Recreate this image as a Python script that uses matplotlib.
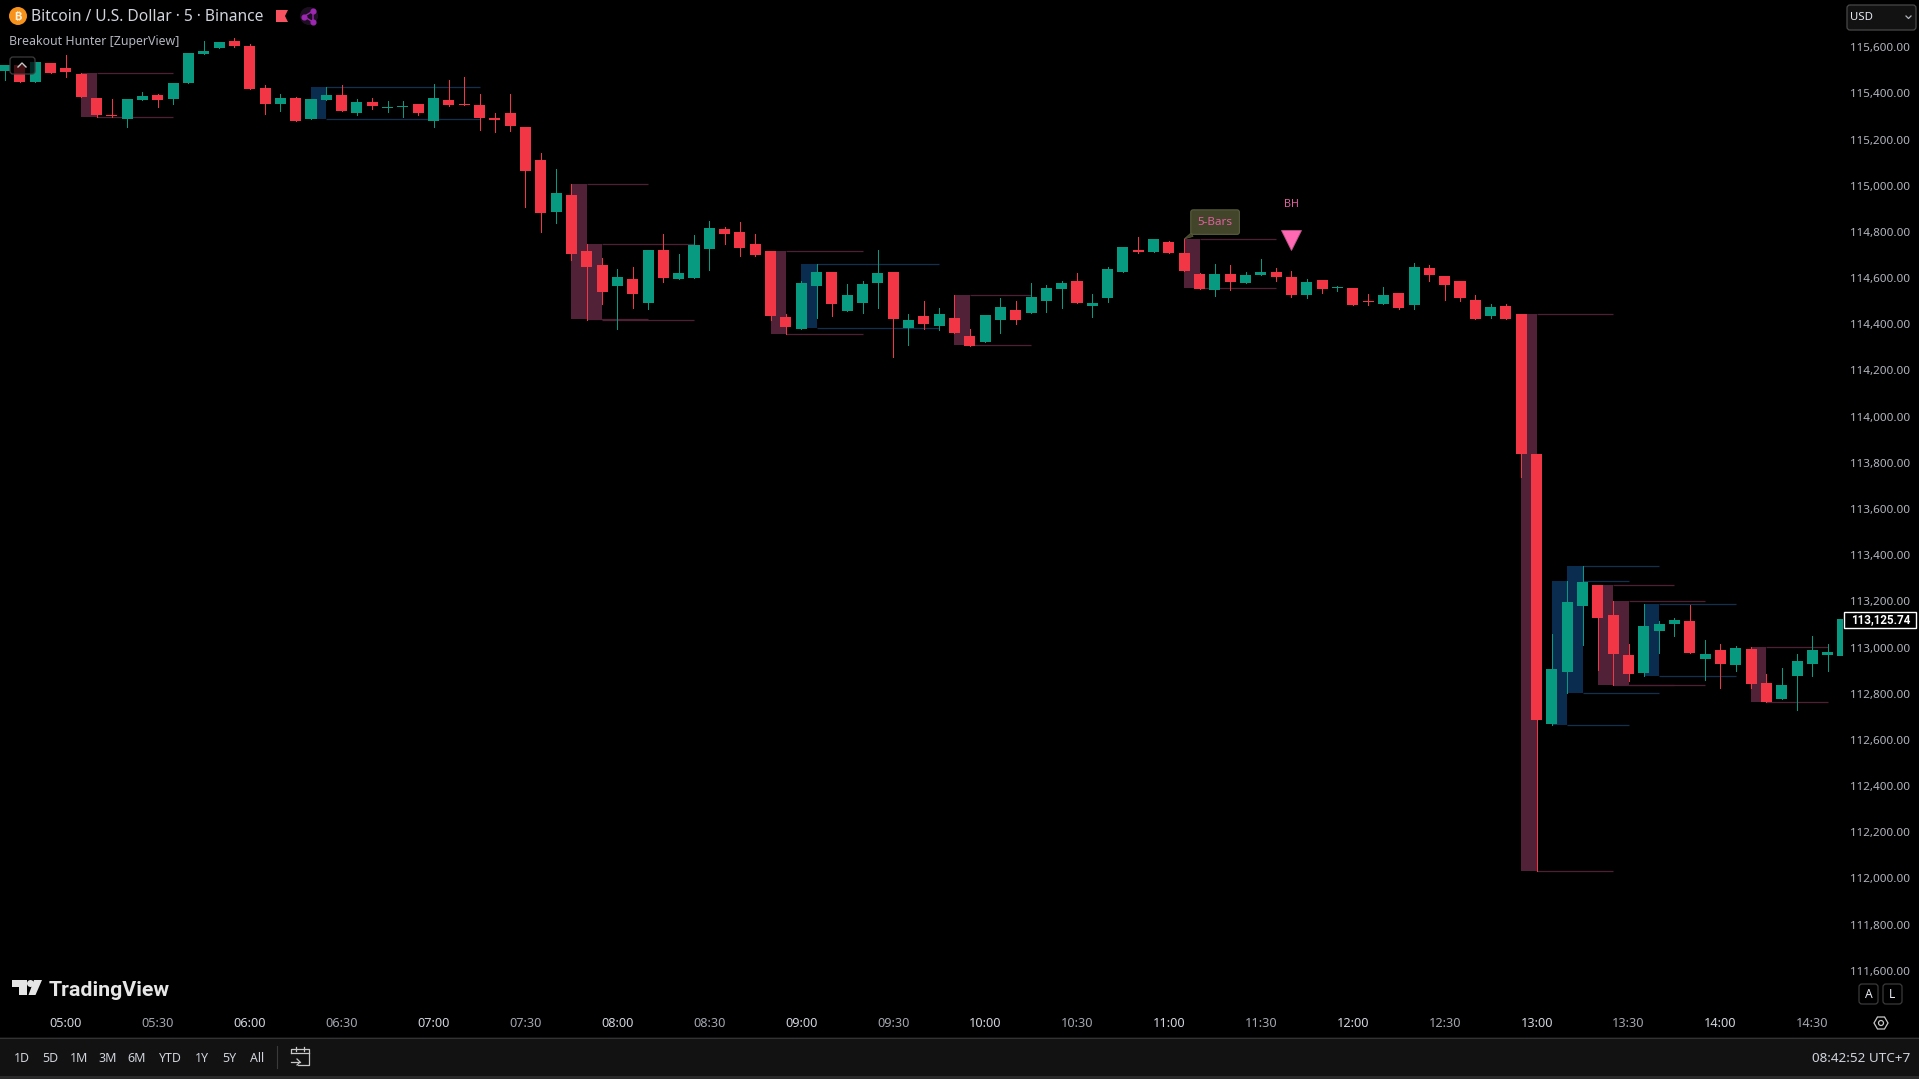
import matplotlib
matplotlib.use('Agg')
import matplotlib.pyplot as plt
from matplotlib.patches import Rectangle, FancyBboxPatch, Polygon, Circle

# 5 min bars, index 0 is the 05:00 bar
first_bar = -4
opens = [115497, 115523, 115450, 115532, 115510, 115484, 115380, 115307, 115289, 115372, 115393, 115376, 115445,
         115571, 115597, 115627, 115606, 115424, 115354, 115380, 115289, 115372, 115393, 115315, 115363, 115337,
         115341, 115354, 115281, 115372, 115354, 115350, 115289, 115315, 115255, 115112, 114887, 114960, 114718,
         114657, 114566, 114596, 114492, 114722, 114596, 114601, 114726, 114813, 114800, 114748, 114718, 114432,
         114380, 114566, 114627, 114458, 114492, 114579, 114627, 114384, 114436, 114393, 114427, 114349, 114323,
         114419, 114462, 114449, 114501, 114553, 114588, 114479, 114514, 114627, 114722, 114713, 114757, 114709,
         114618, 114549, 114618, 114579, 114614, 114627, 114605, 114527, 114592, 114557, 114557, 114501, 114488,
         114536, 114484, 114644, 114609, 114588, 114505, 114436, 114479, 114445, 113838, 112669, 112894, 113180,
         113271, 113141, 112968, 112890, 113072, 113102, 113115, 112950, 112989, 112924, 112994, 112846, 112777,
         112877, 112929, 112968, 112963]
highs = [115523, 115523, 115536, 115532, 115567, 115489, 115380, 115376, 115376, 115406, 115398, 115445, 115575,
         115627, 115623, 115640, 115614, 115437, 115398, 115385, 115376, 115428, 115437, 115376, 115380, 115367,
         115367, 115354, 115441, 115458, 115471, 115398, 115315, 115398, 115255, 115142, 115073, 115008, 114748,
         114687, 114640, 114648, 114722, 114791, 114705, 114787, 114848, 114822, 114843, 114791, 114718, 114445,
         114588, 114661, 114627, 114575, 114588, 114722, 114627, 114445, 114501, 114471, 114527, 114380, 114440,
         114514, 114501, 114579, 114570, 114588, 114622, 114531, 114648, 114735, 114778, 114770, 114761, 114770,
         114622, 114661, 114657, 114627, 114683, 114644, 114631, 114596, 114592, 114566, 114557, 114531, 114562,
         114536, 114666, 114657, 114609, 114588, 114527, 114488, 114488, 114445, 113838, 113058, 113288, 113353,
         113271, 113201, 113015, 113188, 113115, 113128, 113184, 113033, 113015, 113007, 113002, 112885, 112911,
         112972, 113050, 113015, 113123]
lows = [115458, 115450, 115450, 115489, 115471, 115385, 115298, 115298, 115255, 115372, 115341, 115354, 115445,
        115571, 115597, 115601, 115419, 115311, 115324, 115281, 115289, 115372, 115324, 115307, 115333, 115320,
        115298, 115307, 115255, 115346, 115350, 115242, 115233, 115238, 114908, 114800, 114839, 114679, 114419,
        114488, 114380, 114471, 114466, 114583, 114596, 114601, 114635, 114748, 114696, 114696, 114419, 114358,
        114380, 114427, 114436, 114458, 114449, 114471, 114258, 114310, 114380, 114375, 114362, 114306, 114323,
        114362, 114401, 114449, 114453, 114471, 114492, 114432, 114497, 114627, 114709, 114713, 114709, 114631,
        114553, 114523, 114549, 114579, 114614, 114588, 114518, 114514, 114536, 114544, 114484, 114484, 114488,
        114466, 114466, 114588, 114505, 114501, 114423, 114427, 114423, 113739, 112032, 112664, 112803, 113011,
        112903, 112838, 112855, 112877, 112976, 113050, 112976, 112859, 112825, 112898, 112825, 112764, 112777,
        112729, 112877, 112898, 112963]
closes = [115523, 115450, 115536, 115489, 115493, 115385, 115307, 115302, 115376, 115389, 115372, 115445, 115575,
          115584, 115623, 115606, 115419, 115354, 115380, 115281, 115376, 115393, 115324, 115363, 115346, 115341,
          115346, 115315, 115380, 115350, 115350, 115294, 115287, 115259, 115064, 114882, 114969, 114705, 114648,
          114540, 114605, 114531, 114722, 114601, 114622, 114744, 114817, 114791, 114731, 114700, 114436, 114388,
          114579, 114627, 114488, 114527, 114575, 114622, 114423, 114419, 114401, 114445, 114362, 114306, 114440,
          114475, 114419, 114518, 114557, 114579, 114492, 114492, 114640, 114735, 114713, 114770, 114709, 114631,
          114553, 114618, 114583, 114614, 114627, 114605, 114527, 114583, 114553, 114562, 114484, 114497, 114527,
          114471, 114648, 114614, 114570, 114514, 114423, 114475, 114423, 113838, 112686, 112907, 113197, 113284,
          113128, 112972, 112885, 113093, 113102, 113119, 112976, 112972, 112929, 112998, 112842, 112764, 112838,
          112942, 112989, 112981, 113123]

# breakout ranges: box from bar to bar + 1, level lines run on to the end bar
box_start = [1, 16, 33, 34, 46, 48, 58, 73, 95, 97, 98, 100, 101, 103, 110]
box_end = [7, 27, 38, 41, 52, 57, 63, 79, 101, 102, 104, 105, 107, 109, 115]
box_top = [115489, 115428, 115008, 114748, 114718, 114661, 114527, 114770, 114445, 113288, 113353, 113271, 113201, 113188, 113002]
box_bot = [115298, 115289, 114423, 114419, 114358, 114384, 114310, 114557, 112032, 112664, 112803, 112838, 112837, 112877, 112764]
box_kind = ['r', 'b', 'r', 'r', 'r', 'b', 'r', 'r', 'r', 'b', 'b', 'r', 'r', 'b', 'r']

price_ticks = [111600, 111800, 112000, 112200, 112400, 112600, 112800, 113000, 113200, 113400, 113600, 113800,
               114000, 114200, 114400, 114600, 114800, 115000, 115200, 115400, 115600]
time_ticks = [0, 6, 12, 18, 24, 30, 36, 42, 48, 54, 60, 66, 72, 78, 84, 90, 96, 102, 108, 114]
time_labels = ['05:00', '05:30', '06:00', '06:30', '07:00', '07:30', '08:00', '08:30', '09:00', '09:30', '10:00',
               '10:30', '11:00', '11:30', '12:00', '12:30', '13:00', '13:30', '14:00', '14:30']
last_price = 113125.74
range_buttons = ['1D', '5D', '1M', '3M', '6M', 'YTD', '1Y', '5Y', 'All']

GREEN = '#089981'
RED = '#F23645'
BOX = {'r': '#512138', 'b': '#0a2c4e'}
LINE = {'r': '#4f2034', 'b': '#12304f'}
PINK = '#ff69b4'

plt.rcParams['font.family'] = ['Noto Sans', 'DejaVu Sans']

W, H = 1919, 1079
fig = plt.figure(figsize=(W / 100, H / 100), dpi=100, facecolor='black')

# chart pane, scale taken from the axis labels
pane_r, pane_b = 1843, 1012
ax = fig.add_axes([0, 1 - pane_b / H, pane_r / W, pane_b / H], facecolor='black')
ax.set_xlim(-4.3, 116.0)
ax.set_ylim(111421, 115805)
for s in ax.spines.values():
    s.set_visible(False)

for st, en, top, bot, k in zip(box_start, box_end, box_top, box_bot, box_kind):
    ax.add_patch(Rectangle((st, bot), 1, top - bot, fc=BOX[k], ec='none', zorder=1, antialiased=False))
    ax.hlines([top, bot], st + 1, en, colors=LINE[k], lw=0.9, zorder=1)

bars = range(first_bar, first_bar + len(opens))
for i, o, h, l, c in zip(bars, opens, highs, lows, closes):
    col = GREEN if c >= o else RED
    ax.vlines(i, l, h, colors=col, lw=0.72, zorder=2, antialiased=False)
    ax.bar(i, max(abs(c - o), 5), bottom=min(o, c), width=0.72, color=col, lw=0, zorder=3, antialiased=False)

# signal marker of the indicator
ax.plot([80], [114765], marker='v', ms=15, color=PINK, mec='#c2528c', mew=0.6, ls='none', zorder=5)
ax.annotate('BH', (80, 114765), xytext=(0, 25.3), textcoords='offset points', color='#e0609f', fontsize=7.8,
            ha='center', va='center', zorder=5)
ax.annotate('5-Bars', (73, 114770), xytext=(22.2, 12.1), textcoords='offset points', color='#e0609f', fontsize=8.4,
            ha='center', va='center', zorder=5,
            bbox=dict(boxstyle='round,pad=0.58,rounding_size=0.2', fc='#42452a', ec='#5a5d3a', lw=0.8),
            arrowprops=dict(arrowstyle='wedge,tail_width=0.35', fc='#42452a', ec='#5a5d3a', lw=0.5,
                            shrinkA=0, shrinkB=0))

ax.yaxis.tick_right()
ax.set_yticks(price_ticks)
ax.set_yticklabels(['{:,.2f}'.format(p) for p in price_ticks], ha='right')
ax.tick_params(axis='y', length=0, pad=48, labelsize=8.4, labelcolor='#b2b5be')
ax.set_xticks(time_ticks)
ax.set_xticklabels(time_labels)
ax.tick_params(axis='x', length=0, pad=3.5, labelsize=9.2)
for n, lab in enumerate(ax.get_xticklabels()):
    lab.set_color('#d1d4dc' if n % 2 == 0 else '#a3a6af')

# everything around the chart, in screen pixels
ov = fig.add_axes([0, 0, 1, 1], zorder=10)
ov.set_xlim(0, W)
ov.set_ylim(H, 0)
ov.axis('off')
ov.patch.set_alpha(0)

# header
ov.add_patch(Circle((18, 16), 9, fc='#f7931a', ec='none'))
ov.text(18, 16, '₿', color='#fff3e0', fontsize=8, fontweight='bold', ha='center', va='center',
        family=['Inter', 'Roboto', 'Open Sans', 'Lato', 'Noto Sans', 'Liberation Sans'])
ov.text(31, 17, 'Bitcoin / U.S. Dollar · 5 · Binance', color='#d1d4dc', fontsize=11.2, va='center')
ov.add_patch(Polygon([(276, 10), (288, 10), (285, 16), (288, 22), (276, 22)], fc='#f7525f', ec='none'))
ov.add_patch(Circle((309, 16), 9, fc='#1c0f22', ec='none'))
ov.plot([313, 304, 313, 313], [11, 16.5, 22, 11], color='#9c27b0', lw=1)
ov.plot([313, 304, 313], [11, 16.5, 22], ls='none', marker='o', ms=3.4, color='#9c27b0')
ov.text(9, 42, 'Breakout Hunter [ZuperView]', color='#b2b5be', fontsize=8.9, va='center')
ov.add_patch(FancyBboxPatch((10, 57), 25, 17, boxstyle='round,pad=0,rounding_size=3', fc=(0, 0, 0, 0.72),
                            ec='#3c3c3c', lw=0.9))
ov.plot([18, 22, 26], [67, 63, 67], color='#c8c8c8', lw=1)

# USD selector
ov.add_patch(FancyBboxPatch((1847, 5), 69, 25, boxstyle='round,pad=0,rounding_size=3', fc='#121212', ec='#484848', lw=0.9))
ov.text(1850, 17, 'USD', color='#e6e9f0', fontsize=8.2, va='center')
ov.plot([1906, 1908.5, 1911], [16, 18.5, 16], color='#b2b5be', lw=0.9)

# current price label
ov.add_patch(Rectangle((1844, 611.5), 72, 16, fc='black', ec='white', lw=1))
ov.text(1910, 619.5, '{:,.2f}'.format(last_price), color='white', fontsize=8.4, fontweight='bold', ha='right', va='center',
        family='Roboto')

# logo
ov.add_patch(Polygon([(12, 980), (27, 980), (27, 995), (19, 995), (19, 987), (12, 987)], fc='#e6e6e6', ec='none'))
ov.add_patch(Circle((30.5, 983.5), 3.5, fc='#e6e6e6', ec='none'))
ov.add_patch(Polygon([(34, 980), (42, 980), (35.5, 995), (28.5, 995)], fc='#e6e6e6', ec='none'))
ov.text(49, 990, 'TradingView', color='#e6e6e6', fontsize=15.4, fontweight='bold', va='center', family='Roboto')

# auto / log buttons
for x0, t in zip([1859, 1883], ['A', 'L']):
    ov.add_patch(FancyBboxPatch((x0, 984), 19, 20, boxstyle='round,pad=0,rounding_size=3', fc='black', ec='#3a3a3a', lw=0.9))
    ov.text(x0 + 9.5, 994, t, color='#e6e9f0', fontsize=8.7, ha='center', va='center')
ov.add_patch(Polygon([(1874, 1023), (1877.5, 1017), (1884.5, 1017), (1888, 1023), (1884.5, 1029), (1877.5, 1029)],
                     fc='none', ec='#c8c8c8', lw=0.9))
ov.add_patch(Circle((1881, 1023), 2.5, fc='none', ec='#c8c8c8', lw=0.9))

# bottom toolbar
ov.add_patch(Rectangle((0, 1037), W, 39, fc='#121212', ec='none', zorder=0))
ov.add_patch(Rectangle((0, 1076), W, 3, fc='#2a2a2a', ec='none', zorder=0))
ov.plot([0, W], [1037.5, 1037.5], color='#333333', lw=0.8)
for x0, t in zip([22, 50, 79, 108, 137, 170, 202, 229, 257], range_buttons):
    ov.text(x0, 1058, t, color='#d1d4dc', fontsize=8.9, ha='center', va='center')
ov.plot([276.5, 276.5], [1046, 1068], color='#3a3a3a', lw=0.8)
ov.plot([291, 291, 309, 309, 298], [1053, 1049, 1049, 1065, 1065], color='#c8c8c8', lw=0.9)
ov.plot([291, 309], [1053, 1053], color='#c8c8c8', lw=0.9)
ov.plot([296, 296], [1047, 1051], color='#c8c8c8', lw=0.9)
ov.plot([304, 304], [1047, 1051], color='#c8c8c8', lw=0.9)
ov.plot([291, 300], [1062, 1062], color='#c8c8c8', lw=0.9)
ov.plot([297, 300, 297], [1059, 1062, 1065], color='#c8c8c8', lw=0.9)
ov.text(1910, 1058, '08:42:52 UTC+7', color='#d1d4dc', fontsize=9.7, ha='right', va='center')

fig.savefig('out.png', dpi=100, facecolor='black')
